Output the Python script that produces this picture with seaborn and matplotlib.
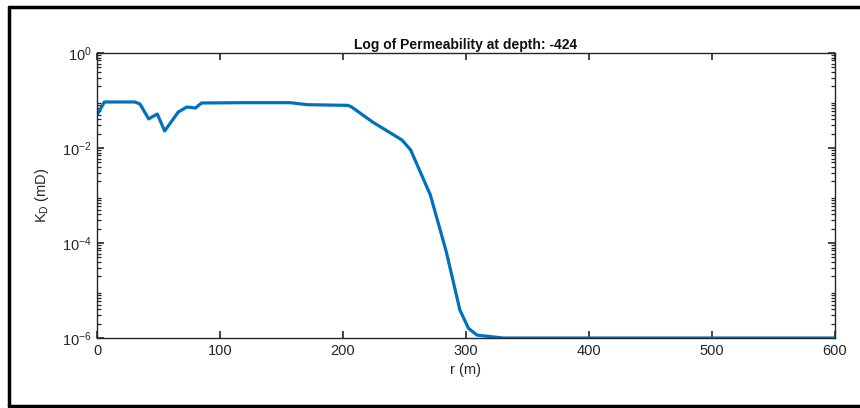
import matplotlib
matplotlib.use("Agg")
import matplotlib.pyplot as plt
from matplotlib.lines import Line2D
from matplotlib.ticker import LogLocator, FixedLocator
import seaborn as sns
import pandas as pd

# Data
r_m = [0, 6, 31, 35, 42, 49, 55, 66, 73, 80, 85, 120, 157, 171, 204, 207,
       224, 248, 255, 271, 284, 295, 302, 309, 330, 400, 500, 600]
k_d = [0.0495, 0.093, 0.093, 0.084, 0.041, 0.052, 0.0228, 0.057, 0.073, 0.0695,
       0.0886, 0.090, 0.090, 0.0816, 0.079, 0.073, 0.0353, 0.0147, 0.0091,
       0.00103, 6.5e-5, 3.9e-6, 1.6e-6, 1.15e-6, 1.0e-6, 1.0e-6, 1.0e-6, 1.0e-6]
x_ticks = [0, 100, 200, 300, 400, 500, 600]
y_ticks = [1e-6, 1e-4, 1e-2, 1]
title_text = "Log of Permeability at depth: -424"
x_label = "r (m)"
y_label = r"K$_\mathrm{D}$ (mD)"

sns.set_style("ticks")
plt.rcParams['font.family'] = ['Liberation Sans', 'DejaVu Sans']
plt.rcParams['mathtext.fontset'] = 'custom'
plt.rcParams['mathtext.rm'] = 'Liberation Sans'
plt.rcParams['mathtext.it'] = 'Liberation Sans:italic'
plt.rcParams['mathtext.bf'] = 'Liberation Sans:bold'
plt.rcParams['axes.unicode_minus'] = False

df = pd.DataFrame({"r": r_m, "k": k_d})

fig = plt.figure(figsize=(8.6, 4.08), dpi=100)
ax = fig.add_axes([97/860, 1 - 338/408, (835 - 97)/860, (338 - 53)/408])

sns.lineplot(data=df, x="r", y="k", ax=ax, color="#0072BD", linewidth=2.3,
             estimator=None, sort=False)
ax.set_yscale("log")
ax.set_xlim(0, 600)
ax.set_ylim(1e-6, 1)
ax.xaxis.set_major_locator(FixedLocator(x_ticks))
ax.yaxis.set_major_locator(FixedLocator(y_ticks))
ax.yaxis.set_minor_locator(LogLocator(base=10, subs=tuple(range(2, 10)), numticks=50))

tc = "#262626"
for s in ax.spines.values():
    s.set_visible(True)
    s.set_color(tc)
    s.set_linewidth(1.0)
ax.tick_params(axis="both", which="major", direction="in", length=5, width=1.2,
               top=True, right=True, colors=tc, labelsize=10.5, labelcolor=tc, pad=4)
ax.tick_params(axis="y", which="minor", direction="in", length=3, width=0.9,
               left=True, right=True, colors=tc)
ax.tick_params(axis="x", which="minor", bottom=False, top=False)

ax.set_title(title_text, fontsize=10, fontweight="bold", color="#111111", pad=3)
ax.set_xlabel(x_label, fontsize=10.5, color=tc, labelpad=4)
ax.set_ylabel(y_label, fontsize=10.5, color=tc, labelpad=8)

# figure border (left, top, bottom)
for xs, ys in [([9/860, 9/860], [1 - 7/408, 1 - 406/408]),
               ([9/860, 1.0], [1 - 7/408, 1 - 7/408]),
               ([9/860, 1.0], [1 - 406/408, 1 - 406/408])]:
    fig.add_artist(Line2D(xs, ys, transform=fig.transFigure, color="black", linewidth=2.5))

fig.savefig("out.png", dpi=100)
